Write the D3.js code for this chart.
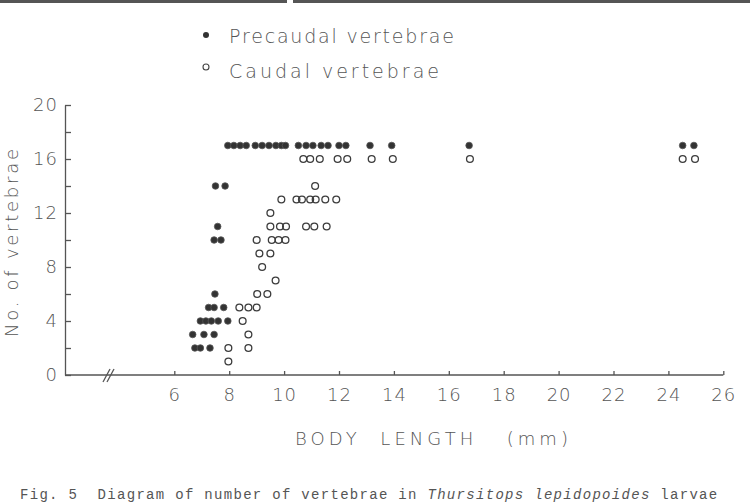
<!DOCTYPE html>
<html>
<head>
<meta charset="utf-8">
<script src="https://cdn.jsdelivr.net/npm/d3@7"></script>
<style>
  body { margin: 0; background: #fff; }
  svg text { font-family: "DejaVu Sans", sans-serif; fill: #555; }
</style>
</head>
<body>
<script>
'use strict';

// body length (mm) and vertebra counts
var precaudalLength = [6.75, 6.95, 7.3,
  6.67, 7.08, 7.45,
  6.95, 7.15, 7.35, 7.6, 7.95,
  7.25, 7.45, 7.8,
  7.48,
  7.45, 7.7,
  7.58,
  7.5, 7.85,
  7.95, 8.17, 8.4, 8.62, 8.95, 9.2, 9.45, 9.7, 9.9, 10.05,
  10.52, 10.8, 11.05, 11.35, 11.6, 12.0, 12.25, 13.13, 13.92, 16.74, 24.52, 24.93];
var precaudalCount = [2, 2, 2,
  3, 3, 3,
  4, 4, 4, 4, 4,
  5, 5, 5,
  6,
  10, 10,
  11,
  14, 14,
  17, 17, 17, 17, 17, 17, 17, 17, 17, 17,
  17, 17, 17, 17, 17, 17, 17, 17, 17, 17, 17, 17];

var caudalLength = [7.97,
  7.97, 8.7,
  8.7,
  8.49,
  8.37, 8.7, 9.0,
  9.02, 9.39,
  9.69,
  9.2,
  9.1, 9.5,
  9.0, 9.55, 9.8, 10.05,
  9.5, 9.85, 10.07, 10.8, 11.1, 11.55,
  9.5,
  9.9, 10.45, 10.65, 10.95, 11.15, 11.5, 11.9,
  11.13,
  10.7, 10.95, 11.3, 11.95, 12.3, 13.19, 13.96, 16.77, 24.52, 24.97];
var caudalCount = [1,
  2, 2,
  3,
  4,
  5, 5, 5,
  6, 6,
  7,
  8,
  9, 9,
  10, 10, 10, 10,
  11, 11, 11, 11, 11, 11,
  12,
  13, 13, 13, 13, 13, 13, 13,
  14,
  16, 16, 16, 16, 16, 16, 16, 16, 16, 16];

var xTicks = [6, 8, 10, 12, 14, 16, 18, 20, 22, 24, 26];
var yTicks = [0, 2, 4, 6, 8, 10, 12, 14, 16, 18, 20];
var yLabels = [0, 4, 8, 12, 16, 20];

var legendLabels = ["Precaudal vertebrae", "Caudal vertebrae"];

window.onload = function(){

   var svg = d3.select("body").append("svg")
      .attr("width", 750)
      .attr("height", 504);

   var x = d3.scaleLinear().domain([6, 26]).range([174.3, 723.3]);
   var y = d3.scaleLinear().domain([0, 20]).range([375, 105]);
   var originX = 65;

   // rule at the top of the page (cut by the scan)
   svg.append("rect").attr("x", 0).attr("y", 0).attr("width", 287).attr("height", 3).attr("fill", "#555");
   svg.append("rect").attr("x", 293).attr("y", 0).attr("width", 457).attr("height", 3).attr("fill", "#555");

   // legend
   var legend = svg.append("g");
   legend.append("circle").attr("cx", 206).attr("cy", 35).attr("r", 3)
      .attr("fill", "#333");
   legend.append("circle").attr("cx", 206).attr("cy", 67).attr("r", 3)
      .attr("fill", "#fff").attr("stroke", "#444").attr("stroke-width", 1.1);
   legend.selectAll("text.leg")
      .data(legendLabels)
      .enter().append("text")
      .attr("class", "leg")
      .attr("x", 229)
      .attr("y", function(d, i){ return 43 + i * 35; })
      .attr("font-size", "19px")
      .attr("font-weight", 300)
      .attr("textLength", function(d, i){ return i === 0 ? 225 : 210; })
      .attr("lengthAdjust", "spacing")
      .text(function(d){ return d; });

   // y axis
   var yAxis = d3.axisLeft(y)
      .tickValues(yTicks)
      .tickSizeInner(-6)
      .tickSizeOuter(0)
      .tickPadding(7)
      .tickFormat(function(d){ return yLabels.indexOf(d) >= 0 ? d : ""; });
   var gy = svg.append("g").attr("transform", "translate(" + originX + ",0)").call(yAxis);
   gy.selectAll("text").attr("font-size", "18px").attr("font-weight", 300)
      .attr("letter-spacing", "1px").style("font-family", null).attr("fill", "#555");

   // x axis (broken near the origin)
   var xAxis = d3.axisBottom(x)
      .tickValues(xTicks)
      .tickSizeInner(-4)
      .tickSizeOuter(0)
      .tickPadding(13);
   var gx = svg.append("g").attr("transform", "translate(0," + y(0) + ")").call(xAxis);
   gx.select(".domain").remove();
   gx.selectAll("text").attr("font-size", "18px").attr("font-weight", 300)
      .attr("letter-spacing", "1px").attr("fill", "#555");
   gx.append("line")
      .attr("x1", originX).attr("x2", x(26))
      .attr("y1", 0).attr("y2", 0)
      .attr("stroke", "currentColor");
   [0, 4].forEach(function(off){
      gx.append("line")
         .attr("x1", 103 + off).attr("y1", 7)
         .attr("x2", 110 + off).attr("y2", -6)
         .attr("stroke", "currentColor");
   });

   svg.selectAll(".domain, .tick line, g line").attr("stroke", "#555").attr("stroke-width", 1.3);

   // axis titles
   svg.append("text")
      .attr("transform", "translate(18,243) rotate(-90)")
      .attr("text-anchor", "middle")
      .attr("font-size", "18px")
      .attr("font-weight", 300)
      .attr("textLength", 188)
      .attr("lengthAdjust", "spacing")
      .text("No. of vertebrae");

   svg.append("text")
      .attr("x", 295)
      .attr("y", 445)
      .attr("font-size", "18px")
      .attr("font-weight", 300)
      .attr("textLength", 273)
      .attr("lengthAdjust", "spacing")
      .attr("xml:space", "preserve")
      .text("BODY  LENGTH   (mm)");

   // points
   var caudal = caudalLength.map(function(v, i){ return { len: v, n: caudalCount[i] }; });
   var precaudal = precaudalLength.map(function(v, i){ return { len: v, n: precaudalCount[i] }; });

   svg.append("g").selectAll("circle")
      .data(caudal)
      .enter().append("circle")
      .attr("cx", function(d){ return x(d.len); })
      .attr("cy", function(d){ return y(d.n); })
      .attr("r", 3.4)
      .attr("fill", "none")
      .attr("stroke", "#3c3c3c")
      .attr("stroke-width", 1.3);

   svg.append("g").selectAll("circle")
      .data(precaudal)
      .enter().append("circle")
      .attr("cx", function(d){ return x(d.len); })
      .attr("cy", function(d){ return y(d.n); })
      .attr("r", 3.3)
      .attr("fill", "#333")
      .attr("stroke", "#555")
      .attr("stroke-width", 0.8);

   // caption at the bottom edge
   var cap = svg.append("text")
      .attr("x", 20)
      .attr("y", 499)
      .attr("font-size", "14px")
      .attr("letter-spacing", "1.3px")
      .attr("xml:space", "preserve")
      .style("font-family", "'Liberation Mono', monospace")
      .attr("fill", "#444");
   cap.append("tspan").text("Fig. 5  Diagram of number of vertebrae in ");
   cap.append("tspan").attr("font-style", "italic").text("Thursitops lepidopoides");
   cap.append("tspan").text(" larvae");
};
</script>
</body>
</html>
